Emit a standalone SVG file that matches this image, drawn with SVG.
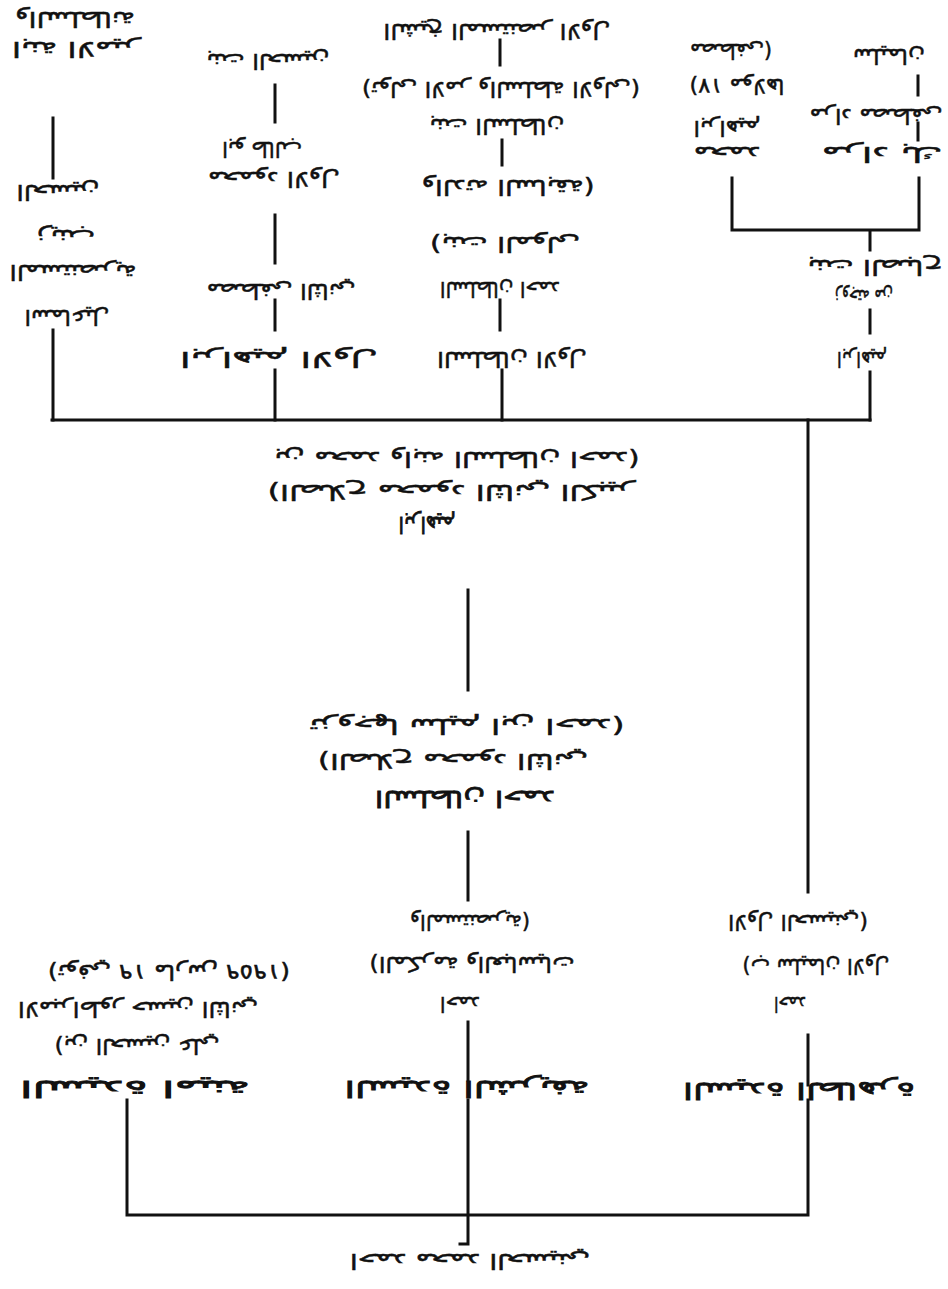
<svg xmlns="http://www.w3.org/2000/svg" width="948" height="1289" viewBox="0 0 948 1289">
<style>
  .t { font-family: "DejaVu Sans", "Noto Sans", sans-serif; font-size: 21px; fill: #111; stroke: #111; stroke-width: 0.5; text-anchor: middle; dominant-baseline: central; direction: rtl; unicode-bidi: embed; }
  .b { font-size: 23px; stroke-width: 0.8; }
  .c { stroke: #111; stroke-width: 3; fill: none; stroke-linecap: square; }
</style>
<rect width="948" height="1289" fill="#fff"/>
<g id="connectors" class="c">
  <path d="M53 118V178 M53 330V420"/>
  <path d="M275 85V122 M275 215V263 M275 300V330 M275 370V420"/>
  <path d="M500 40V65 M502 140V165 M500 300V330 M502 370V420"/>
  <path d="M732 178V230H919V178 M870 230V250 M870 310V333 M870 372V420"/>
  <path d="M918 76V95 M918 123V140"/>
  <path d="M52 420H870"/>
  <path d="M808 420V892"/>
  <path d="M468 590V690 M468 832V900"/>
  <path d="M468 1022V1080 M808 1035V1085"/>
  <path d="M127 1100V1215H808V1100 M468 1100V1244H460"/>
</g>
<g id="n-col1">
  <text class="t" x="75" y="19" textLength="120" lengthAdjust="spacingAndGlyphs" transform="rotate(180 75 19)">والسلطانة</text>
  <text class="t" x="76" y="49" textLength="128" lengthAdjust="spacingAndGlyphs" transform="rotate(180 76 49)">ابنة الامير</text>
  <text class="t" x="58" y="192" textLength="83" lengthAdjust="spacingAndGlyphs" transform="rotate(180 58 192)">الحسين</text>
  <text class="t" x="66" y="237" textLength="58" lengthAdjust="spacingAndGlyphs" transform="rotate(180 66 237)">زينب</text>
  <text class="t" x="73" y="272" textLength="127" lengthAdjust="spacingAndGlyphs" transform="rotate(180 73 272)">المستنصرية</text>
  <text class="t" x="67" y="317" textLength="85" lengthAdjust="spacingAndGlyphs" transform="rotate(180 67 317)">اسماعيل</text>
</g>
<g id="n-col2">
  <text class="t" x="268" y="61" textLength="123" lengthAdjust="spacingAndGlyphs" transform="rotate(180 268 61)">بنت الحسين</text>
  <text class="t" x="262" y="149" textLength="80" lengthAdjust="spacingAndGlyphs" transform="rotate(180 262 149)">ابو طالب</text>
  <text class="t" x="274" y="179" textLength="132" lengthAdjust="spacingAndGlyphs" transform="rotate(180 274 179)">محمود الاول</text>
  <text class="t" x="281" y="291" textLength="149" lengthAdjust="spacingAndGlyphs" transform="rotate(180 281 291)">مصطفى الثاني</text>
  <text class="t" x="279" y="359" textLength="198" lengthAdjust="spacingAndGlyphs" transform="rotate(180 279 359)">ابراهيم الاول</text>
</g>
<g id="n-col3">
  <text class="t" x="497" y="31" textLength="227" lengthAdjust="spacingAndGlyphs" transform="rotate(180 497 31)">الشيخ المستنصر الاول</text>
  <text class="t" x="501" y="89" textLength="278" lengthAdjust="spacingAndGlyphs" transform="rotate(180 501 89)">(تولى الامر والسلطة الاولى)</text>
  <text class="t" x="497" y="126" textLength="135" lengthAdjust="spacingAndGlyphs" transform="rotate(180 497 126)">بنت السلطان</text>
  <text class="t" x="508" y="187" textLength="173" lengthAdjust="spacingAndGlyphs" transform="rotate(180 508 187)">والدته السابقة)</text>
  <text class="t" x="505" y="244" textLength="150" lengthAdjust="spacingAndGlyphs" transform="rotate(180 505 244)">(بنت المولى</text>
  <text class="t" x="500" y="289" textLength="120" lengthAdjust="spacingAndGlyphs" transform="rotate(180 500 289)">السلطان احمد</text>
  <text class="t" x="512" y="359" textLength="150" lengthAdjust="spacingAndGlyphs" transform="rotate(180 512 359)">السلطان الاول</text>
</g>
<g id="n-col4a">
  <text class="t" x="731" y="51" textLength="82" lengthAdjust="spacingAndGlyphs" transform="rotate(180 731 51)">مصطفى)</text>
  <text class="t" x="737" y="86" textLength="95" lengthAdjust="spacingAndGlyphs" transform="rotate(180 737 86)">(١٧ مولاها</text>
  <text class="t" x="727" y="128" textLength="67" lengthAdjust="spacingAndGlyphs" transform="rotate(180 727 128)">ابراهيم</text>
  <text class="t" x="727" y="154" textLength="67" lengthAdjust="spacingAndGlyphs" transform="rotate(180 727 154)">محمد</text>
</g>
<g id="n-col4b">
  <text class="t" x="889" y="56" textLength="72" lengthAdjust="spacingAndGlyphs" transform="rotate(180 889 56)">سليمان</text>
  <text class="t" x="876" y="116" textLength="133" lengthAdjust="spacingAndGlyphs" transform="rotate(180 876 116)">مراد مصطفى</text>
  <text class="t" x="882" y="154" textLength="121" lengthAdjust="spacingAndGlyphs" transform="rotate(180 882 154)">مراد بك</text>
</g>
<g id="n-col4c">
  <text class="t" x="875" y="267" textLength="135" lengthAdjust="spacingAndGlyphs" transform="rotate(180 875 267)">بنت الصباح</text>
  <text class="t" x="864" y="297" textLength="58" lengthAdjust="spacingAndGlyphs" transform="rotate(180 864 297)">زوجته من</text>
  <text class="t" x="862" y="359" textLength="50" lengthAdjust="spacingAndGlyphs" transform="rotate(180 862 359)">ابراهيم</text>
</g>
<g id="n-center1">
  <text class="t" x="457" y="459" textLength="365" lengthAdjust="spacingAndGlyphs" transform="rotate(180 457 459)">بن محمد وابنه السلطان احمد)</text>
  <text class="t" x="451" y="492" textLength="367" lengthAdjust="spacingAndGlyphs" transform="rotate(180 451 492)">(الصلاح محمود الثاني الكبير</text>
  <text class="t b" x="427" y="525" textLength="57" lengthAdjust="spacingAndGlyphs" transform="rotate(180 427 525)">ابراهيم</text>
</g>
<g id="n-center2">
  <text class="t" x="467" y="726" textLength="315" lengthAdjust="spacingAndGlyphs" transform="rotate(180 467 726)">تزوجها سليم ابن احمد)</text>
  <text class="t" x="453" y="761" textLength="270" lengthAdjust="spacingAndGlyphs" transform="rotate(180 453 761)">(الصلاح محمود الثاني</text>
  <text class="t b" x="465" y="799" textLength="180" lengthAdjust="spacingAndGlyphs" transform="rotate(180 465 799)">السلطان احمد</text>
</g>
<g id="n-row3-left">
  <text class="t" x="169" y="972" textLength="242" lengthAdjust="spacingAndGlyphs" transform="rotate(180 169 972)">(توفي ١٩ مارس ١٩٥٩)</text>
  <text class="t" x="138" y="1009" textLength="240" lengthAdjust="spacingAndGlyphs" transform="rotate(180 138 1009)">الامبراطور حسين الثاني</text>
  <text class="t" x="137" y="1046" textLength="165" lengthAdjust="spacingAndGlyphs" transform="rotate(180 137 1046)">(بن الحسين علي</text>
  <text class="t b" x="135" y="1089" textLength="230" lengthAdjust="spacingAndGlyphs" transform="rotate(180 135 1089)">السيدة امينة</text>
</g>
<g id="n-row3-center">
  <text class="t" x="470" y="922" textLength="120" lengthAdjust="spacingAndGlyphs" transform="rotate(180 470 922)">والمستنصرية)</text>
  <text class="t" x="472" y="964" textLength="205" lengthAdjust="spacingAndGlyphs" transform="rotate(180 472 964)">(المكرمة والعباسيات</text>
  <text class="t" x="460" y="1004" textLength="40" lengthAdjust="spacingAndGlyphs" transform="rotate(180 460 1004)">احمد</text>
  <text class="t b" x="467" y="1089" textLength="245" lengthAdjust="spacingAndGlyphs" transform="rotate(180 467 1089)">السيدة الشريفة</text>
</g>
<g id="n-row3-right">
  <text class="t" x="798" y="922" textLength="140" lengthAdjust="spacingAndGlyphs" transform="rotate(180 798 922)">الاول الحسيني)</text>
  <text class="t" x="816" y="966" textLength="147" lengthAdjust="spacingAndGlyphs" transform="rotate(180 816 966)">(ب سليمان الاول</text>
  <text class="t" x="790" y="1004" textLength="32" lengthAdjust="spacingAndGlyphs" transform="rotate(180 790 1004)">احمد</text>
  <text class="t b" x="799" y="1091" textLength="232" lengthAdjust="spacingAndGlyphs" transform="rotate(180 799 1091)">السيدة الطاهرة</text>
</g>
<g id="n-bottom">
  <text class="t" x="470" y="1261" textLength="240" lengthAdjust="spacingAndGlyphs" transform="rotate(180 470 1261)">احمد محمد الحسيني</text>
</g>
</svg>
